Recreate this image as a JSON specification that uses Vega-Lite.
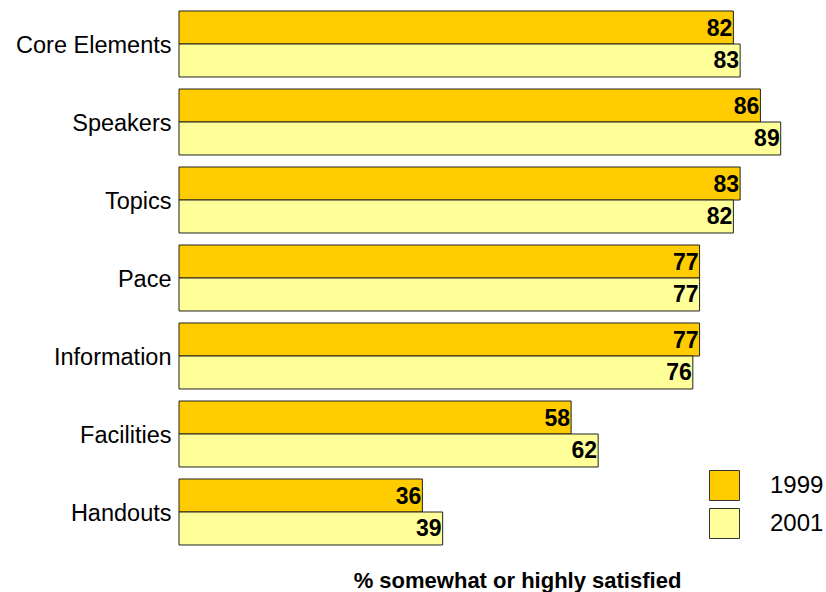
{
  "$schema": "https://vega.github.io/schema/vega-lite/v6.json",
  "width": 647,
  "height": 546,
  "autosize": {"type": "none"},
  "padding": {"left": 179, "top": 5, "right": 0, "bottom": 41},
  "background": "white",
  "config": {"view": {"stroke": null}, "font": "Liberation Sans"},
  "data": {
    "values": [
      {"category": "Core Elements", "year": "1999", "value": 82},
      {"category": "Core Elements", "year": "2001", "value": 83},
      {"category": "Speakers", "year": "1999", "value": 86},
      {"category": "Speakers", "year": "2001", "value": 89},
      {"category": "Topics", "year": "1999", "value": 83},
      {"category": "Topics", "year": "2001", "value": 82},
      {"category": "Pace", "year": "1999", "value": 77},
      {"category": "Pace", "year": "2001", "value": 77},
      {"category": "Information", "year": "1999", "value": 77},
      {"category": "Information", "year": "2001", "value": 76},
      {"category": "Facilities", "year": "1999", "value": 58},
      {"category": "Facilities", "year": "2001", "value": 62},
      {"category": "Handouts", "year": "1999", "value": 36},
      {"category": "Handouts", "year": "2001", "value": 39}
    ]
  },
  "encoding": {
    "y": {
      "field": "category",
      "type": "nominal",
      "sort": ["Core Elements", "Speakers", "Topics", "Pace", "Information", "Facilities", "Handouts"],
      "scale": {"paddingInner": 0.154, "paddingOuter": 0.077},
      "axis": {"title": null, "domain": false, "ticks": false, "labelFontSize": 23.5, "labelColor": "black", "labelPadding": 8, "labelOffset": 2, "labelFont": "Liberation Sans"}
    },
    "yOffset": {"field": "year", "type": "nominal", "sort": ["1999", "2001"]},
    "x": {
      "field": "value",
      "type": "quantitative",
      "scale": {"domain": [0, 95.7], "nice": false},
      "axis": {"title": "% somewhat or highly satisfied", "titleFontSize": 22, "titleFontWeight": "bold", "titleColor": "black", "titleFont": "Liberation Sans", "titlePadding": 19, "titleX": 338, "domain": false, "ticks": false, "labels": false, "grid": false}
    }
  },
  "layer": [
    {
      "mark": {"type": "bar", "stroke": "#222222", "strokeWidth": 1},
      "encoding": {
        "color": {
          "field": "year",
          "type": "nominal",
          "scale": {"domain": ["1999", "2001"], "range": ["#FFCC00", "#FFFF99"]},
          "legend": {
            "title": null,
            "orient": "none",
            "legendX": 530,
            "legendY": 465,
            "symbolType": "square",
            "symbolSize": 900,
            "symbolStrokeColor": "#333333",
            "symbolStrokeWidth": 1,
            "labelFontSize": 24,
            "labelColor": "black",
            "labelOffset": 30,
            "rowPadding": 3,
            "labelFont": "Liberation Sans"
          }
        }
      }
    },
    {
      "mark": {"type": "text", "align": "right", "baseline": "middle", "dx": -1, "dy": 1, "fontSize": 23, "fontWeight": "bold", "color": "black", "font": "Liberation Sans"},
      "encoding": {"text": {"field": "value", "type": "quantitative"}}
    }
  ]
}
